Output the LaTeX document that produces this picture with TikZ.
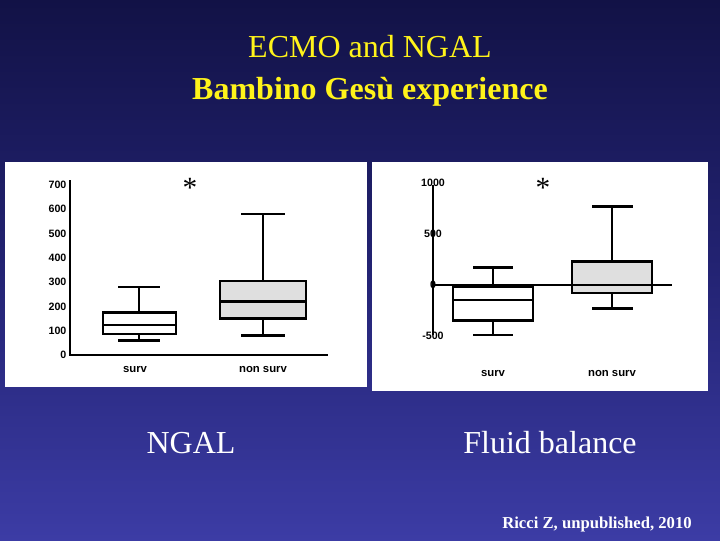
\documentclass[tikz,border=0pt]{standalone}
\usepackage{fontspec}
\setmainfont{Liberation Serif}
\newfontfamily\axf{Liberation Sans}
\begin{document}
\begin{tikzpicture}[x=0.75pt,y=-0.75pt,
  ttl/.style={text=yellow!90!white,font=\fontsize{24}{28}\selectfont},
  big/.style={text=white,font=\fontsize{24}{28}\selectfont},
  tick/.style={font=\axf\bfseries\fontsize{8}{9}\selectfont,anchor=east,inner sep=1pt},
  cat/.style={font=\axf\bfseries\fontsize{8.5}{9}\selectfont},
  bx/.style={draw=black,line width=2pt},
  ln/.style={draw=black,line width=2pt}]
\useasboundingbox (0,0) rectangle (720,540);
\shade[top color={rgb,255:red,18;green,18;blue,70},bottom color={rgb,255:red,60;green,60;blue,165},middle color={rgb,255:red,35;green,35;blue,115}] (0,0) rectangle (720,540);
\node[ttl] (t1) at (370,47) {ECMO and NGAL};
\node[ttl,font=\bfseries\fontsize{24}{28}\selectfont] (t2) at (370,92) {Bambino Gesù experience};
% left panel
\fill[white] (5,162) rectangle (367,387);
\draw[ln] (70,180) -- (70,355) -- (328,355);
\foreach \v/\t in {0/0,100/100,200/200,300/300,400/400,500/500,600/600,700/700}
  \node[tick] at (68,{355-0.243*\v}) {\t};
\node[font=\fontsize{22}{24}\selectfont] (s1) at (190,188) {*};
\draw[ln] (139,340.4) -- (139,287) (118,340.4) -- (160,340.4) (118,287) -- (160,287);
\draw[bx,fill=white] (103,334) rectangle (176,312.5);
\draw[ln] (103,325) -- (176,325);
\draw[ln] (263,335.6) -- (263,214) (241,335.6) -- (285,335.6) (241,214) -- (285,214);
\draw[bx,fill=gray!25] (220,318.5) rectangle (306,281);
\draw[ln] (220,301.5) -- (306,301.5);
\node[cat] (c1) at (135,369) {surv};
\node[cat] (c2) at (263,369) {non surv};
% right panel
\fill[white] (372,162) rectangle (708,391);
\draw[ln] (433,185) -- (433,335);
\draw[ln] (433,285) -- (672,285);
\foreach \v/\t in {-500/-500,0/0,500/500,1000/1000}
  \node[tick,anchor=center] at (433,{285-0.102*\v}) {\t};
\node[font=\fontsize{22}{24}\selectfont] (s2) at (543,188) {*};
\draw[ln] (493,335) -- (493,267.7) (473,335) -- (513,335) (473,267.7) -- (513,267.7);
\draw[bx,fill=white] (453,287) rectangle (533,320.7);
\draw[ln] (453,300) -- (533,300);
\draw[ln] (612,308.5) -- (612,206.5) (592,308.5) -- (633,308.5) (592,206.5) -- (633,206.5);
\draw[bx,fill=gray!25] (572,261.5) rectangle (652,293);
\draw[ln] (433,285) -- (672,285);
\node[cat] (c3) at (493,373) {surv};
\node[cat] (c4) at (612,373) {non surv};
\node[big] (n1) at (191,443) {NGAL};
\node[big] (n2) at (550,443) {Fluid balance};
\node[text=white,font=\bfseries\fontsize{12.5}{14}\selectfont] (r) at (597,524) {Ricci Z, unpublished, 2010};
\end{tikzpicture}
\end{document}
